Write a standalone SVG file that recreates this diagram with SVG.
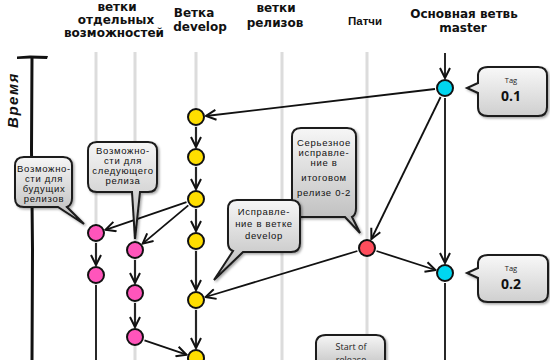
<svg xmlns="http://www.w3.org/2000/svg" width="550" height="360" viewBox="0 0 550 360">
<defs>
<marker id="arr" viewBox="0 0 12 12" refX="11" refY="6" markerWidth="12" markerHeight="12" markerUnits="userSpaceOnUse" orient="auto">
<path d="M1,1 L11,6 L1,11" fill="none" stroke="#111" stroke-width="2" stroke-linejoin="miter"/>
</marker>
<linearGradient id="cg" x1="0" y1="0" x2="0" y2="1">
<stop offset="0" stop-color="#f6f6f6"/>
<stop offset="1" stop-color="#b8b8b8"/>
</linearGradient>
<linearGradient id="tg" x1="0" y1="0" x2="0" y2="1">
<stop offset="0" stop-color="#f8f8f8"/>
<stop offset="1" stop-color="#cfcfcf"/>
</linearGradient>
<filter id="sh" x="-20%" y="-20%" width="140%" height="140%">
<feDropShadow dx="1.5" dy="1.5" stdDeviation="1.2" flood-color="#000" flood-opacity="0.35"/>
</filter>
</defs>
<style>
.hdr{font-family:"DejaVu Sans",sans-serif;font-weight:bold;font-size:12px;fill:#111;text-anchor:middle}
.hdr2{font-family:"Liberation Sans",Arial,sans-serif;font-weight:bold;font-size:11.5px;fill:#111;text-anchor:middle}
.lane{stroke:#dcdcdc;stroke-width:3;fill:none}
.edge{stroke:#111;stroke-width:1.8;fill:none;marker-end:url(#arr)}
.plain{stroke:#111;stroke-width:1.8;fill:none}
.node{stroke:#111;stroke-width:2}
.dev{fill:#ffde00}
.feat{fill:#ff55bb}
.mst{fill:#00d6f0}
.fix{fill:#ff4d5c}
.call{fill:url(#cg);stroke:#1a1a1a;stroke-width:2;filter:url(#sh)}
.tagc{fill:url(#tg);stroke:#1a1a1a;stroke-width:2;filter:url(#sh)}
.ct{font-family:"Liberation Sans",Arial,sans-serif;font-size:9.5px;fill:#111;text-anchor:middle;letter-spacing:0.7px}
.tt{font-family:"Open Sans",sans-serif;font-size:7.5px;fill:#222;text-anchor:middle}
.tv{font-family:"Open Sans",sans-serif;font-size:14px;font-weight:bold;fill:#111;text-anchor:middle}
.st{font-family:"Open Sans",sans-serif;font-size:9px;fill:#222;text-anchor:middle}
</style>

<g id="headers">
<text class="hdr" x="117" y="11">ветки</text>
<text class="hdr" x="116" y="24">отдельных</text>
<text class="hdr" x="114" y="37">возможностей</text>
<text class="hdr" x="194" y="17">Ветка</text>
<text class="hdr" x="200" y="31">develop</text>
<text class="hdr" x="276" y="12">ветки</text>
<text class="hdr" x="275" y="27">релизов</text>
<text class="hdr2" x="365" y="25">Патчи</text>
<text class="hdr" x="464" y="18">Основная ветвь</text>
<text class="hdr" x="463" y="32">master</text>
</g>

<g id="time-axis">
<path d="M17,56.5 L30,55.5 L48,56 L47,59 L30,58.5 L17,59 Z" fill="#111"/>
<path d="M32,58 L31.5,150 L32.5,250 L32,360" stroke="#111" stroke-width="3" fill="none"/>
<text transform="translate(18,100) rotate(-90)" font-family="Liberation Sans,Arial,sans-serif" font-size="15" font-weight="bold" font-style="italic" fill="#111" text-anchor="middle" letter-spacing="1.5">Время</text>
</g>

<g id="lanes">
<line class="lane" x1="96" y1="52" x2="96" y2="285"/>
<line class="lane" x1="135" y1="52" x2="135" y2="360"/>
<line class="lane" x1="196" y1="52" x2="196" y2="360"/>
<line class="lane" x1="282" y1="52" x2="282" y2="360"/>
<line class="lane" x1="367" y1="52" x2="367" y2="336"/>
</g>

<g id="connectors">
<line class="edge" x1="445" y1="53" x2="445" y2="78"/>
<line class="edge" x1="435" y1="89" x2="206" y2="116"/>
<line class="edge" x1="440.6" y1="97" x2="371.4" y2="239"/>
<line class="edge" x1="445" y1="98" x2="445" y2="263"/>
<line class="plain" x1="445" y1="283" x2="445" y2="360"/>
<line class="edge" x1="357.4" y1="251" x2="205.6" y2="297"/>
<line class="edge" x1="376.5" y1="251" x2="435.5" y2="270"/>
<line class="edge" x1="196" y1="127" x2="196" y2="147"/>
<line class="edge" x1="196" y1="167" x2="196" y2="189"/>
<line class="edge" x1="196" y1="209" x2="196" y2="231"/>
<line class="edge" x1="196" y1="251" x2="196" y2="290"/>
<line class="edge" x1="196" y1="310" x2="196" y2="348"/>
<line class="edge" x1="186.5" y1="202.2" x2="105.5" y2="229.8"/>
<line class="edge" x1="188.3" y1="205.4" x2="142.7" y2="243.6"/>
<line class="edge" x1="96" y1="243" x2="96" y2="265"/>
<line class="plain" x1="96" y1="285" x2="96" y2="360" stroke="#333"/>
<line class="edge" x1="135" y1="260" x2="135" y2="283"/>
<line class="edge" x1="135" y1="303" x2="135" y2="327"/>
<line class="edge" x1="144.5" y1="340.3" x2="186.5" y2="354.7"/>
</g>

<g id="develop-nodes">
<circle class="node dev" cx="196" cy="117" r="8"/>
<circle class="node dev" cx="196" cy="157" r="8"/>
<circle class="node dev" cx="196" cy="199" r="8"/>
<circle class="node dev" cx="196" cy="241" r="8"/>
<circle class="node dev" cx="196" cy="300" r="8"/>
<circle class="node dev" cx="196" cy="358" r="8"/>
</g>
<g id="feature-nodes">
<circle class="node feat" cx="96" cy="233" r="8"/>
<circle class="node feat" cx="96" cy="275" r="8"/>
<circle class="node feat" cx="135" cy="250" r="8"/>
<circle class="node feat" cx="135" cy="293" r="8"/>
<circle class="node feat" cx="135" cy="337" r="8"/>
</g>
<g id="master-nodes">
<circle class="node mst" cx="445" cy="88" r="8"/>
<circle class="node mst" cx="445" cy="273" r="8"/>
</g>
<g id="hotfix-node">
<circle class="node fix" cx="367" cy="248" r="8"/>
</g>

<g id="callout-future">
<path class="call" d="M24,157 H63 Q72,157 72,166 V198 Q72,205 67,207 L84,224 L58,207 H24 Q15,207 15,198 V166 Q15,157 24,157 Z"/>
<text class="ct" x="44" y="172">Возможно-</text>
<text class="ct" x="44" y="182">сти для</text>
<text class="ct" x="44" y="192">будущих</text>
<text class="ct" x="44" y="202">релизов</text>
</g>

<g id="callout-next">
<path class="call" d="M97,142 H148 Q157,142 157,151 V183 Q157,192 148,192 H140 L135,239 L132,192 H97 Q88,192 88,183 V151 Q88,142 97,142 Z"/>
<text class="ct" x="123" y="154">Возможно-</text>
<text class="ct" x="123" y="164">сти для</text>
<text class="ct" x="123" y="174">следующего</text>
<text class="ct" x="123" y="184">релиза</text>
</g>

<g id="callout-severe">
<path class="call" d="M301,128 H347 Q356,128 356,137 V208 Q356,215 352,217 L360,233 L345,217 H301 Q292,217 292,208 V137 Q292,128 301,128 Z"/>
<text class="ct" x="324" y="146">Серьезное</text>
<text class="ct" x="324" y="156">исправле-</text>
<text class="ct" x="324" y="166">ние в</text>
<text class="ct" x="324" y="181">итоговом</text>
<text class="ct" x="324" y="196">релизе 0-2</text>
</g>

<g id="callout-devfix">
<path class="call" d="M237,200 H291 Q300,200 300,209 V243 Q300,252 291,252 H243 L214,280 L233,251 Q228,249 228,243 V209 Q228,200 237,200 Z"/>
<text class="ct" x="264" y="215">Исправле-</text>
<text class="ct" x="264" y="227">ние в ветке</text>
<text class="ct" x="264" y="239">develop</text>
</g>

<g id="tag-01">
<path class="tagc" d="M488,67 H538 Q547,67 547,76 V107 Q547,116 538,116 H488 Q478,116 478,107 V93 L467,88 L478,83 V76 Q478,67 488,67 Z"/>
<text class="tt" x="511" y="83">Tag</text>
<text class="tv" x="511" y="101">0.1</text>
</g>

<g id="tag-02">
<path class="tagc" d="M488,255 H539 Q548,255 548,264 V293 Q548,302 539,302 H488 Q478,302 478,293 V278 L467,273 L478,268 V264 Q478,255 488,255 Z"/>
<text class="tt" x="511" y="271">Tag</text>
<text class="tv" x="511" y="289">0.2</text>
</g>

<g id="callout-release">
<path class="call" d="M326,335 H376 Q385,335 385,344 V375 H316 V344 Q316,335 326,335 Z"/>
<text class="st" x="351" y="350">Start of</text>
<text class="st" x="351" y="363">release</text>
</g>
</svg>
